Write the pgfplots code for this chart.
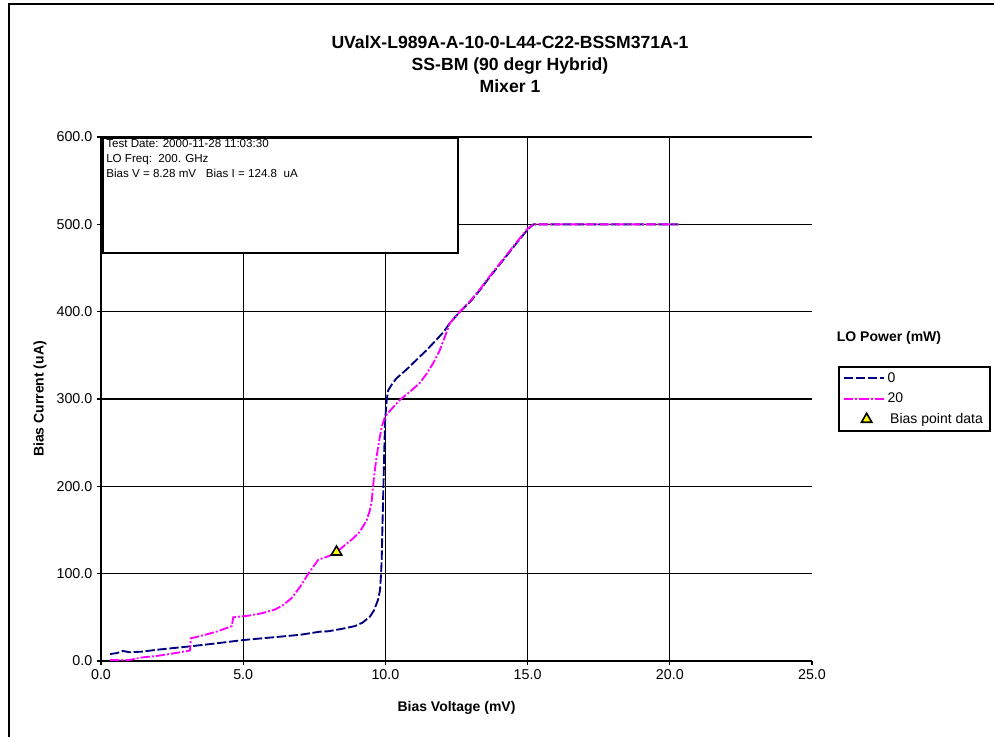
\documentclass[border=0pt]{standalone}
\usepackage{fontspec}
\setmainfont{Liberation Sans}
\usepackage{pgfplots}
\pgfplotsset{compat=1.18}

\definecolor{navyc}{RGB}{0,0,128}
\definecolor{magc}{RGB}{255,0,255}
\definecolor{yelc}{RGB}{255,255,0}

\pgfplotsset{
  lineleg/.style={legend image code/.code={\draw[##1] (0pt,0pt) -- (30pt,0pt);}},
  markleg/.style={legend image code/.code={\draw[##1] plot coordinates {(17pt,0pt)};}},
}

\begin{document}
\begin{tikzpicture}[x=0.75pt,y=0.75pt]
\path[use as bounding box] (0,0) rectangle (994,736);
\draw[line width=1.5pt] (9,-9) -- (9,732) -- (1000,732);

\node[align=center,font=\fontsize{13.2}{16.5}\selectfont\bfseries] at (510,672)
  {UValX-L989A-A-10-0-L44-C22-BSSM371A-1\\SS-BM (90 degr Hybrid)\\Mixer 1};

\begin{axis}[
  at={(75.75pt,56.25pt)}, anchor=south west,
  scale only axis, width=533.25pt, height=393pt,
  xmin=0, xmax=25, ymin=0, ymax=600,
  axis lines*=left,
  axis line style={-, line width=1.5pt},
  xtick={0,5,...,25}, ytick={0,100,...,600},
  extra x ticks={5,10,15,20}, extra x tick labels={},
  extra x tick style={xmajorgrids=true, major tick length=0pt},
  ymajorgrids=true,
  grid style={black, line width=0.8pt},
  tick align=outside, major tick length=3pt,
  tick style={black, line width=1pt},
  ticklabel style={font=\fontsize{10.7}{12}\selectfont},
  /pgf/number format/.cd, fixed, fixed zerofill, precision=1, assume math mode=true,
  /pgfplots/.cd,
  xtick pos=bottom, ytick pos=left,
  xlabel={Bias Voltage (mV)}, ylabel={Bias Current (uA)},
  label style={font=\fontsize{10.5}{12}\selectfont\bfseries},
  xlabel style={at={(axis description cs:0.5,-0.0897)}, anchor=center},
  ylabel style={at={(axis description cs:-0.0858,0.5)}, anchor=center},
  legend style={at={(axis description cs:1.0366,0.563)}, anchor=north west,
    draw=black, line width=1.5pt, font=\fontsize{10.5}{12}\selectfont,
    legend cell align=left, row sep=2.5pt, inner xsep=3pt, inner ysep=2pt},
]
\addplot[navyc, line width=1.4pt, dash pattern=on 7pt off 2pt, lineleg]
  coordinates {
  (0.32,8)(0.55,9)(0.77,11.5)(1.0,10)(1.43,10.7)(2.0,13)(2.6,15)(3.19,17)
  (4.0,20)(5.0,24)(6.0,27)(7.0,30)(7.7,33.6)(7.98,34)(8.5,37)(8.93,40)
  (9.2,44)(9.46,51)(9.6,58)(9.74,70)(9.81,81)(9.84,96)(9.87,116)(9.90,160)
  (9.93,200)(9.96,240)(9.99,276)(10.05,300)(10.1,310)(10.25,318)(10.4,324)
  (10.75,334)(11.1,345)(11.45,356)(11.8,368)(12.05,377)(12.27,387)(12.62,400)
  (13.0,412)(13.33,425)(13.7,441)(14.14,459)(14.6,478)(15.0,494)(15.2,500)
  (17,500)(20.3,500)};
\addlegendentry{0}
\addplot[magc, line width=1.4pt, dash pattern=on 7pt off 1.5pt on 1.5pt off 1.5pt, lineleg]
  coordinates {
  (0.32,1)(0.96,1)(1.43,4)(2.0,6)(2.6,9)(3.13,12)(3.16,26)(3.66,30)(4.1,34)
  (4.6,40)(4.65,50)(5.2,52)(5.7,55)(6.12,59)(6.4,64)(6.7,72)(7.0,85)(7.29,100)
  (7.64,116)(8.0,120)(8.29,125)(8.87,140.5)(9.1,148)(9.34,161)(9.45,172)
  (9.52,184)(9.6,211)(9.69,234)(9.78,252)(9.87,268)(9.99,280)(10.2,288)
  (10.51,299)(10.85,308)(11.2,318)(11.45,329)(11.68,341)(11.9,355)(12.1,372)
  (12.27,387)(12.62,400)(13.0,413)(13.33,426)(13.7,442)(14.14,460)(14.6,479)
  (15.0,495)(15.2,500)(17,500)(20.3,500)};
\addlegendentry{20}
\addplot[only marks, mark=triangle*, mark size=4.5pt,
  mark options={fill=yelc, draw=black, line width=1.2pt}, markleg]
  coordinates {(8.28,124.8)};
\addlegendentry{\hspace{2pt}Bias point data}
\end{axis}

\draw[line width=1.5pt, fill=white] (103,598) rectangle (458,483);
\node[anchor=north west, align=left, inner sep=0pt,
  font=\fontsize{8.7}{11.2}\selectfont] at (106,597)
  {Test Date: 2000-11-28 11:03:30\\LO Freq:\ \ 200. GHz\\Bias V = 8.28 mV\ \ \ Bias I = 124.8\ \ uA};

\node[font=\fontsize{10.5}{12}\selectfont\bfseries] at (889,398) {LO Power (mW)};
\end{tikzpicture}
\end{document}
